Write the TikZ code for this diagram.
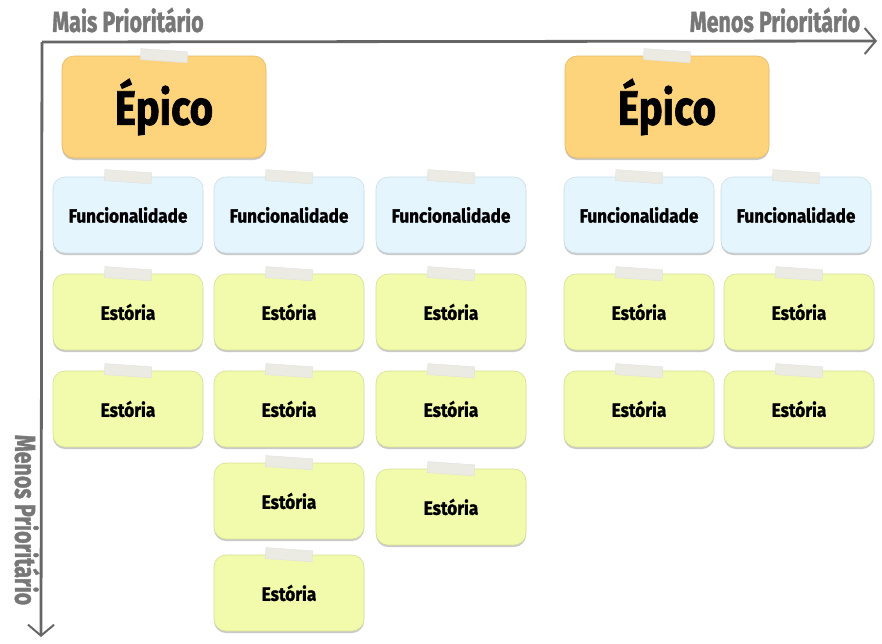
\documentclass[tikz,border=0pt]{standalone}
\usepackage{fontspec}
\setmainfont{Fira Sans}
\newfontfamily\heavyfont{Fira Sans}[BoldFeatures={FakeBold=1.6}]
\usetikzlibrary{arrows.meta,shadows}

\definecolor{epicofill}{HTML}{FDD37B}
\definecolor{epicoline}{HTML}{E9B864}
\definecolor{funcfill}{HTML}{E4F5FD}
\definecolor{funcline}{HTML}{C9DDE7}
\definecolor{estfill}{HTML}{F2FAAB}
\definecolor{estline}{HTML}{D8DE96}
\definecolor{tapefill}{HTML}{EBEBE4}
\definecolor{axisgray}{HTML}{666666}
\definecolor{labelgray}{HTML}{777777}

\newcommand{\axistext}[1]{\scalebox{0.74}[1]{\heavyfont\bfseries #1}}
\newcommand{\cardtext}[1]{\scalebox{0.9}[1]{\heavyfont\bfseries #1}}
\newcommand{\bigtext}[1]{\scalebox{0.84}[1]{\heavyfont\bfseries #1}}

\tikzset{
  tape/.style={fill=tapefill,draw=black!12,sharp corners,minimum width=47pt,minimum height=11pt,inner sep=0pt,rotate=-4},
  card/.style={rounded corners=12pt,line width=0.6pt,inner sep=0pt,
    drop shadow={shadow xshift=0pt,shadow yshift=-2pt,opacity=0.3,fill=black!70},
    append after command={(\tikzlastnode.north) node[tape]{}}},
  epico/.style={card,fill=epicofill,draw=epicoline,minimum width=204pt,minimum height=102pt,font=\fontsize{48}{48}\selectfont},
  func/.style={card,fill=funcfill,draw=funcline,minimum width=150pt,minimum height=76pt,font=\fontsize{19}{19}\selectfont},
  estoria/.style={card,fill=estfill,draw=estline,minimum width=150pt,minimum height=76pt,font=\fontsize{19}{19}\selectfont},
  axis/.style={draw=axisgray,line width=2.8pt,-{Straight Barb[length=11pt,width=26pt,line width=2pt]}},
  axislabel/.style={text=labelgray,inner sep=0pt,font=\fontsize{29}{29}\selectfont}
}

\begin{document}
\begin{tikzpicture}[x=1pt,y=-1pt]
 \useasboundingbox (0,0) rectangle (882,643);
 % eixos
 \coordinate (origem) at (42,42);
 \coordinate (fimx) at (877,41);
 \coordinate (fimy) at (41,637);
 \draw[axis] (origem) -- (fimx);
 \draw[axis] (origem) -- (fimy);
 \node[axislabel] (mais) at (128,20) {\axistext{Mais Prioritário}};
 \node[axislabel] (menosx) at (775,20) {\axistext{Menos Prioritário}};
 \node[axislabel,rotate=-90] (menosy) at (27,520) {\axistext{Menos Prioritário}};
 % epicos
 \node[epico] (ep1) at (164,107) {\bigtext{Épico}};
 \node[epico] (ep2) at (667,107) {\bigtext{Épico}};
 % funcionalidades
 \node[func] (f1) at (128,215) {\cardtext{Funcionalidade}};
 \node[func] (f2) at (289,215) {\cardtext{Funcionalidade}};
 \node[func] (f3) at (451,215) {\cardtext{Funcionalidade}};
 \node[func] (f4) at (639,215) {\cardtext{Funcionalidade}};
 \node[func] (f5) at (796,215) {\cardtext{Funcionalidade}};
 % estorias
 \node[estoria] (e11) at (128,312) {\cardtext{Estória}};
 \node[estoria] (e12) at (128,409) {\cardtext{Estória}};
 \node[estoria] (e21) at (289,312) {\cardtext{Estória}};
 \node[estoria] (e22) at (289,409) {\cardtext{Estória}};
 \node[estoria] (e23) at (289,501) {\cardtext{Estória}};
 \node[estoria] (e24) at (289,593) {\cardtext{Estória}};
 \node[estoria] (e31) at (451,312) {\cardtext{Estória}};
 \node[estoria] (e32) at (451,409) {\cardtext{Estória}};
 \node[estoria] (e33) at (451,507) {\cardtext{Estória}};
 \node[estoria] (e41) at (639,312) {\cardtext{Estória}};
 \node[estoria] (e42) at (639,409) {\cardtext{Estória}};
 \node[estoria] (e51) at (799,312) {\cardtext{Estória}};
 \node[estoria] (e52) at (799,409) {\cardtext{Estória}};
\end{tikzpicture}
\end{document}
